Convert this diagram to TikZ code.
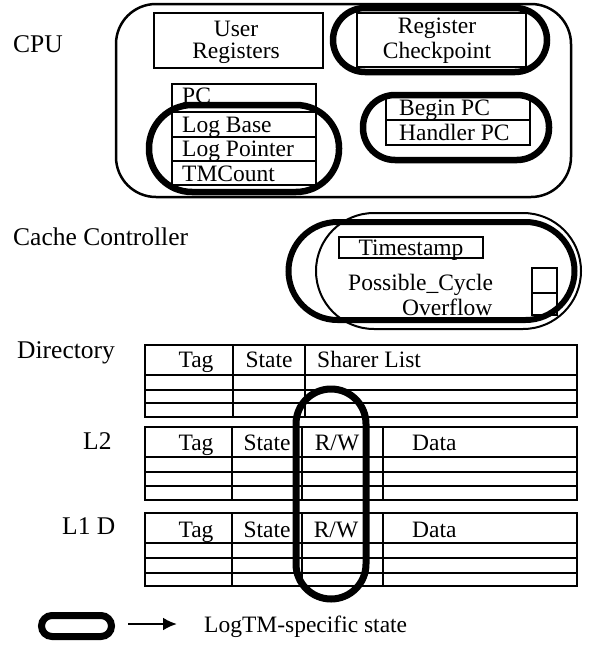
\documentclass[tikz,border=0pt]{standalone}
\usepackage{fontspec}
\setmainfont{Liberation Serif}
\usetikzlibrary{arrows.meta}
\begin{document}
\begin{tikzpicture}[x=1pt,y=-1pt,
  thinbox/.style={draw, line width=2pt},
  tbl/.style={line width=2.2pt},
  logtm/.style={draw, line width=6.5pt},
  txt/.style={inner sep=0pt, font=\fontsize{23.5}{26}\selectfont},
  lbl/.style={inner sep=0pt, font=\fontsize{25.5}{28}\selectfont}]
\useasboundingbox (0,0) rectangle (592,645);

% ---------- CPU ----------
\node[lbl, anchor=base west] (cpulbl) at (13,52) {CPU};
\draw[line width=2.5pt, rounded corners=40pt] (116,4) rectangle (571,197);

\draw[thinbox] (154,13) rectangle (323,68);
\node[txt, anchor=base] (user1) at (236,36) {User};
\node[txt, anchor=base] (user2) at (236,58) {Registers};

\draw[thinbox] (357,13) rectangle (526,67);
\node[txt, anchor=base] (chk1) at (437,33) {Register};
\node[txt, anchor=base] (chk2) at (437,58) {Checkpoint};

\draw[thinbox] (172,84) rectangle (316,185);
\draw[thinbox] (172,112) -- (316,112);
\draw[thinbox] (172,137) -- (316,137);
\draw[thinbox] (172,161) -- (316,161);
\node[txt, anchor=base west] (pc) at (182,103) {PC};
\node[txt, anchor=base west] (logbase) at (182,132) {Log Base};
\node[txt, anchor=base west] (logptr) at (182,156) {Log Pointer};
\node[txt, anchor=base west] (tmcount) at (182,181) {TMCount};

\draw[thinbox] (386,97) rectangle (530,145);
\draw[thinbox] (386,120) -- (530,120);
\node[txt, anchor=base west] (beginpc) at (399,115) {Begin PC};
\node[txt, anchor=base west] (handlerpc) at (399,140) {Handler PC};

\draw[logtm, rounded corners=32pt] (333,8) rectangle (547,72);
\draw[logtm, rounded corners=32pt] (363,95) rectangle (549,160);
\draw[logtm, rounded corners=43pt] (149,105) rectangle (339,192);

% ---------- Cache controller ----------
\node[lbl, anchor=base west] (cclbl) at (13,245) {Cache Controller};
\draw[line width=2pt, rounded corners=58pt] (316,213) rectangle (581,329);
\draw[line width=6pt, rounded corners=49pt] (288.5,222) rectangle (574.5,320);
\draw[thinbox, line width=2.5pt] (339,237) rectangle (483,258);
\node[txt, anchor=base] (timestamp) at (411,255) {Timestamp};
\node[txt, anchor=base west] (posscyc) at (348,290) {Possible\_Cycle};
\node[txt, anchor=base west] (overflow) at (402,315) {Overflow};
\draw[thinbox, line width=2.5pt] (532,268) rectangle (557,315);
\draw[thinbox, line width=2.5pt] (532,293) -- (557,293);

% ---------- Directory ----------
\node[lbl, anchor=base west] (dirlbl) at (17,358) {Directory};
\draw[tbl] (145,345) rectangle (577,417);
\foreach \yy in {375,390,403} \draw[tbl] (145,\yy) -- (577,\yy);
\foreach \xx in {233,305} \draw[tbl] (\xx,345) -- (\xx,417);
\node[txt, anchor=base] (dtag) at (196,367) {Tag};
\node[txt, anchor=base] (dstate) at (269,367) {State};
\node[txt, anchor=base west] (dsharer) at (317,367) {Sharer List};

% ---------- L2 ----------
\node[lbl, anchor=base west] (l2lbl) at (83,449) {L2};
\draw[tbl] (145,427) rectangle (577,500);
\foreach \yy in {457,472,486} \draw[tbl] (145,\yy) -- (577,\yy);
\foreach \xx in {232,302,383} \draw[tbl] (\xx,427) -- (\xx,500);
\node[txt, anchor=base] (l2tag) at (196,450) {Tag};
\node[txt, anchor=base] (l2state) at (267,450) {State};
\node[txt, anchor=base] (l2rw) at (337,450) {R/W};
\node[txt, anchor=base west] (l2data) at (412,450) {Data};

% ---------- L1 D ----------
\node[lbl, anchor=base west] (l1lbl) at (62,534) {L1 D};
\draw[tbl] (145,513) rectangle (577,586);
\foreach \yy in {543,558,573} \draw[tbl] (145,\yy) -- (577,\yy);
\foreach \xx in {232,302,383} \draw[tbl] (\xx,513) -- (\xx,586);
\node[txt, anchor=base] (l1tag) at (196,537) {Tag};
\node[txt, anchor=base] (l1state) at (267,537) {State};
\node[txt, anchor=base] (l1rw) at (336,537) {R/W};
\node[txt, anchor=base west] (l1data) at (412,537) {Data};

\draw[line width=7pt, rounded corners=35pt] (296,389) rectangle (366,599);

% ---------- Legend ----------
\draw[line width=7pt, rounded corners=10.5pt] (41.5,615.5) rectangle (111.5,636.5);
\coordinate (legA) at (128,624);
\node[txt, anchor=base west] (legtxt) at (204,632) {LogTM-specific state};
\coordinate (legB) at (177,624);
\draw[line width=2.5pt, -{Latex[length=14pt,width=13pt]}] (legA) -- (legB);
\end{tikzpicture}
\end{document}
